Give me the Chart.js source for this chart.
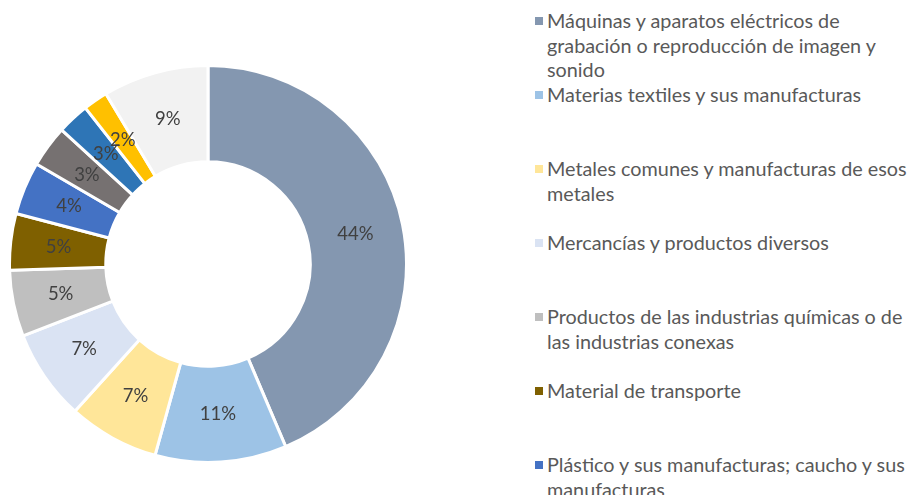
<!DOCTYPE html>
<html>
<head>
<meta charset="utf-8">
<script src="https://cdn.jsdelivr.net/npm/chart.js@4.4.1/dist/chart.umd.min.js"></script>
<style>
    html, body { margin: 0; padding: 0; background: #fff; }
    #wrap { position: relative; width: 909px; height: 495px; overflow: hidden; }
    #pie { position: absolute; left: 8px; top: 64px; width: 400px; height: 400px; }
    #legend { position: absolute; left: 534px; top: 8px; width: 375px; height: 487px; overflow: hidden;
        font-family: Lato, "Open Sans", sans-serif; font-size: 19.8px; color: #595959; }
    .item { position: absolute; left: 0; width: 375px; line-height: 24.5px; padding-left: 13px; box-sizing: border-box; }
    .sw { position: absolute; left: 1px; top: 9px; width: 8px; height: 8px; }
</style>
</head>
<body>
<div id="wrap">
    <div id="pie"><canvas id="chart"></canvas></div>
    <div id="legend"></div>
</div>
<script>
// =======================
// Dados
// =======================
const categorias = [
    "Máquinas y aparatos eléctricos de grabación o reproducción de imagen y sonido",
    "Materias textiles y sus manufacturas",
    "Metales comunes y manufacturas de esos metales",
    "Mercancías y productos diversos",
    "Productos de las industrias químicas o de las industrias conexas",
    "Material de transporte",
    "Plástico y sus manufacturas; caucho y sus manufacturas",
    "Instrumentos y aparatos de óptica, fotografía o cinematografía",
    "Calzado, sombreros y demás tocados",
    "Manufacturas de piedra, cerámica o vidrio",
    "Otros"
];
// participação (%)
const porcentajes = [43.6, 10.7, 7.4, 7.4, 5.4, 4.6, 4.3, 3.4, 2.6, 2.0, 8.6];
const cores = ["#8497B0", "#9DC3E6", "#FFE699", "#DAE3F3", "#BFBFBF", "#7F6000",
               "#4472C4", "#767171", "#2E75B6", "#FFC000", "#F2F2F2"];

// =======================
// Legenda (html, cortada embaixo como no original)
// =======================
const legendBox = document.getElementById("legend");
categorias.forEach((nome, i) => {
    const div = document.createElement("div");
    div.className = "item";
    div.style.top = (i * 74) + "px";
    div.innerHTML = `<span class="sw" style="background:${cores[i]}"></span>${nome}`;
    legendBox.appendChild(div);
});

// rótulos de porcentagem no meio de cada fatia
const rotulos = {
    id: "rotulos",
    afterDatasetsDraw(chart) {
        const ctx = chart.ctx;
        const meta = chart.getDatasetMeta(0);
        ctx.save();
        ctx.font = "18.5px Lato, 'Open Sans', sans-serif";
        ctx.fillStyle = "#404040";
        ctx.textAlign = "center";
        ctx.textBaseline = "middle";
        meta.data.forEach((arc, i) => {
            const p = arc.tooltipPosition();
            ctx.fillText(Math.round(porcentajes[i]) + "%", p.x, p.y);
        });
        ctx.restore();
    }
};

new Chart(document.getElementById("chart"), {
    type: "doughnut",
    data: {
        labels: categorias,
        datasets: [{
            data: porcentajes,
            backgroundColor: cores,
            borderColor: "#ffffff",
            borderWidth: 3
        }]
    },
    options: {
        responsive: true,
        maintainAspectRatio: false,
        animation: false,
        cutout: "51.5%",
        layout: { padding: 0 },
        plugins: {
            legend: { display: false },
            tooltip: { enabled: false }
        }
    },
    plugins: [rotulos]
});
</script>
</body>
</html>
